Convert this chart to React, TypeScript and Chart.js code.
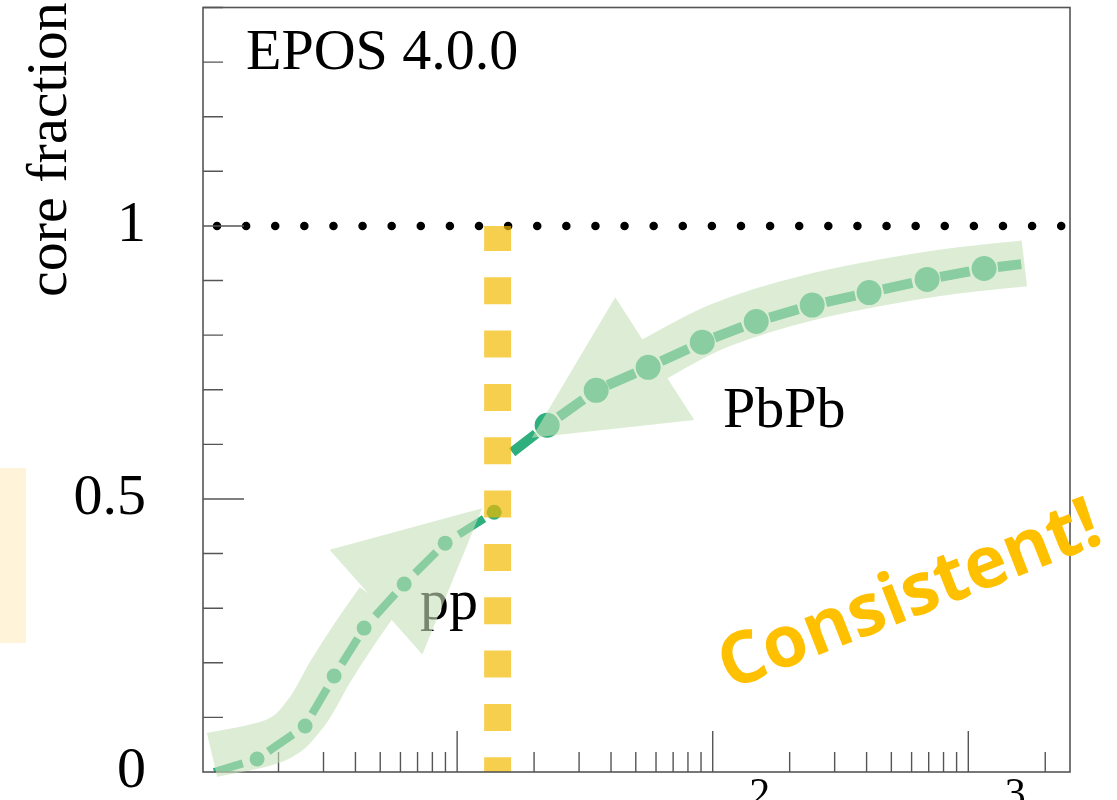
import { useEffect, useRef } from 'react';
import { Chart, registerables } from 'chart.js';

Chart.register(...registerables);

// Charged-particle multiplicity (log axis) and core fraction for pp and PbPb
const ppMultiplicity = [1.119, 1.649, 2.542, 3.301, 4.325, 6.204, 8.975, 13.96];
const ppCoreFraction = [0.0, 0.0238, 0.0842, 0.1757, 0.2635, 0.3441, 0.4191, 0.4758];
const ppMarkerRadius = [0, 7.5, 7.5, 7.5, 7.5, 7.5, 7.5, 7.5];

const pbMultiplicity = [16.42, 22.5, 35.0, 55.9, 91.0, 148, 245, 409, 690, 1153, 1611];
const pbCoreFraction = [0.5857, 0.635, 0.699, 0.741, 0.787, 0.825, 0.855, 0.878, 0.902, 0.922, 0.93];
const pbMarkerRadius = [0, 12.5, 12.5, 12.5, 12.5, 12.5, 12.5, 12.5, 12.5, 12.5, 0];

// Reference lines: full core (y = 1) and the pp / PbPb boundary
const unityX = [1.013, 2500];
const unityY = [1, 1];
const boundaryX = [14.4, 14.4];
const boundaryY = [1, 0];

// Axis ticks
const xRange = [1.013, 2500];
const yRange = [0, 1.4];
const yTickValues = [0.1, 0.2, 0.3, 0.4, 0.5, 0.6, 0.7, 0.8, 0.9, 1.0, 1.1, 1.2, 1.3, 1.4];
const yMajorTicks = [0.5, 1.0];
const yTickLabels: Record<string, string> = { '0': '0', '0.5': '0.5', '1': '1' };
const xMinorTicks = [2, 3, 4, 5, 6, 7, 8, 9, 20, 30, 40, 50, 60, 70, 80, 90, 200, 300, 400, 500, 600, 700, 800, 900, 2000];
const xMajorTicks = [10, 100, 1000];
const xExponentLabels = ['', '2', '3'];

// Guide arrows along each system (multiplicity, core fraction)
const ppArrowPath: [number, number][] = [
  [1.099, 0.0311], [1.957, 0.0586], [2.564, 0.108], [3.184, 0.183], [3.99, 0.2544], [4.91, 0.3148],
];
const ppArrowTip: [number, number] = [12.53, 0.4832];
const pbArrowPath: [number, number][] = [
  [1657, 0.9315], [710, 0.9114], [240.7, 0.8693], [107, 0.8181], [58.0, 0.754],
];
const pbArrowTip: [number, number] = [19.6, 0.612];

const toPoints = (xs: number[], ys: number[]) => xs.map((x, i) => ({ x, y: ys[i] }));

const SERIF = '"Liberation Serif", "Times New Roman", serif';
const DARK_GREEN = '#2EAF7D';

function drawArrow(
  g: CanvasRenderingContext2D,
  pts: [number, number][],
  tip: [number, number],
  halfHead: number,
  bandWidth: number,
) {
  g.beginPath();
  g.moveTo(pts[0][0], pts[0][1]);
  for (let i = 0; i < pts.length - 1; i++) {
    const p0 = pts[i - 1] || pts[i];
    const p1 = pts[i];
    const p2 = pts[i + 1];
    const p3 = pts[i + 2] || p2;
    g.bezierCurveTo(
      p1[0] + (p2[0] - p0[0]) / 6, p1[1] + (p2[1] - p0[1]) / 6,
      p2[0] - (p3[0] - p1[0]) / 6, p2[1] - (p3[1] - p1[1]) / 6,
      p2[0], p2[1],
    );
  }
  g.lineWidth = bandWidth;
  g.lineCap = 'butt';
  g.lineJoin = 'round';
  g.stroke();

  const base = pts[pts.length - 1];
  const dx = tip[0] - base[0];
  const dy = tip[1] - base[1];
  const len = Math.hypot(dx, dy);
  const ux = dx / len;
  const uy = dy / len;
  const bx = base[0] - ux * 3;
  const by = base[1] - uy * 3;
  g.beginPath();
  g.moveTo(bx - uy * halfHead, by + ux * halfHead);
  g.lineTo(tip[0], tip[1]);
  g.lineTo(bx + uy * halfHead, by - ux * halfHead);
  g.closePath();
  g.fill();
}

const decorations = {
  id: 'rootStyleDecorations',
  afterDraw(chart: any) {
    const { ctx, chartArea: a, scales } = chart;
    const xs = scales.x;
    const ys = scales.y;
    const px = (p: [number, number]): [number, number] => [xs.getPixelForValue(p[0]), ys.getPixelForValue(p[1])];

    ctx.save();
    // frame
    ctx.strokeStyle = '#555';
    ctx.lineWidth = 1.6;
    ctx.strokeRect(a.left, a.top, a.right - a.left, a.bottom - a.top);

    // inward tick marks
    ctx.lineWidth = 1.4;
    ctx.beginPath();
    for (const v of yTickValues) {
      const py = ys.getPixelForValue(v);
      const len = yMajorTicks.includes(v) ? 41 : 20;
      ctx.moveTo(a.left, py);
      ctx.lineTo(a.left + len, py);
    }
    for (const v of xMinorTicks) {
      const p = xs.getPixelForValue(v);
      ctx.moveTo(p, a.bottom);
      ctx.lineTo(p, a.bottom - 20);
    }
    for (const v of xMajorTicks) {
      const p = xs.getPixelForValue(v);
      ctx.moveTo(p, a.bottom);
      ctx.lineTo(p, a.bottom - 41);
    }
    ctx.stroke();

    // decade exponents of the x labels
    ctx.fillStyle = '#000';
    ctx.font = `42px ${SERIF}`;
    ctx.textAlign = 'center';
    ctx.textBaseline = 'alphabetic';
    xMajorTicks.forEach((v, i) => {
      if (xExponentLabels[i]) ctx.fillText(xExponentLabels[i], xs.getPixelForValue(v) + 47, a.bottom + 35);
    });

    // texts
    ctx.font = `58px ${SERIF}`;
    ctx.textAlign = 'left';
    ctx.fillText('EPOS 4.0.0', a.left + 43, a.top + 61);
    ctx.fillText('PbPb', 723, 427);
    ctx.fillText('pp', 420, 619);

    ctx.save();
    ctx.translate(66, 297);
    ctx.rotate(-Math.PI / 2);
    ctx.fillText('core fraction', 0, 0);
    ctx.restore();

    // translucent guide arrows
    const off = document.createElement('canvas');
    off.width = chart.canvas.width;
    off.height = chart.canvas.height;
    const g = off.getContext('2d') as CanvasRenderingContext2D;
    g.fillStyle = 'rgb(198,225,186)';
    g.strokeStyle = 'rgb(198,225,186)';
    drawArrow(g, ppArrowPath.map(px), px(ppArrowTip), 70, 45);
    drawArrow(g, pbArrowPath.map(px), px(pbArrowTip), 73, 46);
    ctx.globalAlpha = 0.6;
    ctx.drawImage(off, 0, 0);
    ctx.globalAlpha = 1;

    // stamp
    ctx.save();
    ctx.translate(910, 597);
    ctx.rotate((-21.5 * Math.PI) / 180);
    ctx.font = 'bold 72px "Open Sans", sans-serif';
    ctx.fillStyle = '#FFC000';
    ctx.textAlign = 'center';
    ctx.textBaseline = 'middle';
    ctx.fillText('Consistent!', 0, 0);
    ctx.restore();

    ctx.restore();
  },
};

export default function App() {
  const canvasRef = useRef<HTMLCanvasElement | null>(null);

  useEffect(() => {
    const canvas = canvasRef.current;
    if (!canvas) return;
    const chart = new Chart(canvas, {
      type: 'scatter',
      data: {
        datasets: [
          {
            data: toPoints(boundaryX, boundaryY),
            showLine: true,
            borderColor: 'rgba(242,186,0,0.69)',
            borderWidth: 27,
            borderDash: [27, 26.33],
            borderDashOffset: 2,
            borderCapStyle: 'butt',
            pointRadius: 0,
          },
          {
            data: toPoints(ppMultiplicity, ppCoreFraction),
            showLine: true,
            borderColor: DARK_GREEN,
            borderWidth: 8,
            borderDash: [30, 28.5],
            pointRadius: ppMarkerRadius,
            pointBackgroundColor: DARK_GREEN,
            pointBorderWidth: 0,
          },
          {
            data: toPoints(pbMultiplicity, pbCoreFraction),
            showLine: true,
            borderColor: DARK_GREEN,
            borderWidth: 10,
            borderDash: [30, 28.5],
            pointRadius: pbMarkerRadius,
            pointBackgroundColor: DARK_GREEN,
            pointBorderWidth: 0,
          },
          {
            data: toPoints(unityX, unityY),
            showLine: true,
            borderColor: '#000',
            borderWidth: 8.5,
            borderDash: [0.01, 29.1],
            borderDashOffset: 15.1,
            borderCapStyle: 'round',
            pointRadius: 0,
          },
        ],
      },
      options: {
        animation: false,
        responsive: false,
        devicePixelRatio: 1,
        events: [],
        layout: { padding: { top: 7, right: 47, bottom: 28, left: 0 } },
        plugins: { legend: { display: false }, tooltip: { enabled: false } },
        scales: {
          x: {
            type: 'logarithmic',
            min: xRange[0],
            max: xRange[1],
            display: false,
          },
          y: {
            type: 'linear',
            min: yRange[0],
            max: yRange[1],
            grid: { display: false, drawTicks: false },
            border: { display: false },
            ticks: {
              stepSize: 0.1,
              autoSkip: false,
              padding: 57,
              color: '#000',
              font: { family: SERIF, size: 58 },
              callback: (v: any) => yTickLabels[String(Math.round(Number(v) * 10) / 10)] ?? '',
            },
            afterFit: (scale: any) => {
              scale.width = 203;
              scale.paddingTop = 0;
              scale.paddingBottom = 0;
            },
          },
        },
      },
      plugins: [decorations],
    } as any);
    return () => chart.destroy();
  }, []);

  return (
    <div
      style={{
        position: 'fixed',
        left: 0,
        top: 0,
        width: 1117,
        height: 800,
        overflow: 'hidden',
        background: '#fff',
      }}
    >
      <div
        style={{ position: 'absolute', left: 0, top: 468, width: 26, height: 175, background: '#FFF3DA' }}
      />
      <canvas ref={canvasRef} width={1117} height={800} style={{ position: 'absolute', left: 0, top: 0 }} />
    </div>
  );
}
